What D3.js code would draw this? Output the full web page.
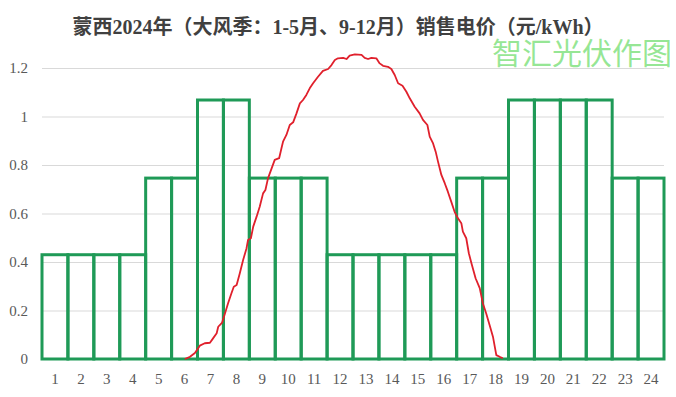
<!DOCTYPE html>
<html>
<head>
<meta charset="utf-8">
<script src="https://cdn.jsdelivr.net/npm/d3@7"></script>
<style>
  body { margin: 0; background: #fff; }
  svg { display: block; }
</style>
</head>
<body>
<div id="chart"></div>
<script>
const W = 676, H = 397;
const margin = { top: 68, right: 12, bottom: 38, left: 42 };
const width = W - margin.left - margin.right;
const height = H - margin.top - margin.bottom;

// hourly sale price (yuan/kWh)
const hours = d3.range(1, 25).map(String);
const price = [0.43, 0.43, 0.43, 0.43, 0.746, 0.746, 1.068, 1.068,
  0.746, 0.746, 0.746, 0.43, 0.43, 0.43, 0.43, 0.43,
  0.746, 0.746, 1.068, 1.068, 1.068, 1.068, 0.746, 0.746];

// PV output curve: position in hour-band units, and value
const pvT = [5.51, 5.71, 5.90, 6.09, 6.28, 6.48, 6.60, 6.74, 6.80, 6.95, 7.06, 7.18, 7.31, 7.40, 7.51,
  7.63, 7.76, 7.89, 7.95, 8.06, 8.15, 8.28, 8.40, 8.53, 8.62, 8.72, 8.86, 8.98, 9.15, 9.24, 9.30,
  9.43, 9.56, 9.69, 9.82, 9.95, 10.07, 10.20, 10.33, 10.46, 10.65, 10.84, 11.04, 11.17, 11.30,
  11.42, 11.62, 11.75, 11.87, 12.07, 12.33, 12.45, 12.58, 12.71, 12.90, 13.03, 13.16, 13.35,
  13.48, 13.61, 13.74, 13.91, 14.06, 14.19, 14.38, 14.57, 14.70, 14.87, 14.96, 15.09, 15.19,
  15.28, 15.41, 15.54, 15.66, 15.79, 15.92, 16.05, 16.18, 16.24, 16.37, 16.47, 16.57, 16.73,
  16.89, 17.01, 17.14, 17.27, 17.40, 17.53, 17.66, 17.78];
const pvV = [0, 0.009, 0.025, 0.055, 0.065, 0.067, 0.085, 0.106, 0.133, 0.150, 0.188, 0.230, 0.271, 0.298, 0.305,
  0.353, 0.408, 0.456, 0.491, 0.498, 0.546, 0.587, 0.628, 0.683, 0.697, 0.745, 0.786, 0.821, 0.828, 0.869, 0.896,
  0.924, 0.965, 0.976, 1.013, 1.054, 1.068, 1.089, 1.116, 1.137, 1.164, 1.188, 1.196, 1.212, 1.233,
  1.240, 1.242, 1.237, 1.251, 1.256, 1.254, 1.242, 1.237, 1.242, 1.240, 1.219, 1.209, 1.205,
  1.196, 1.171, 1.137, 1.127, 1.102, 1.075, 1.040, 1.013, 0.986, 0.965, 0.917, 0.889, 0.855,
  0.814, 0.759, 0.725, 0.690, 0.649, 0.607, 0.580, 0.560, 0.525, 0.498, 0.436, 0.395, 0.333,
  0.292, 0.230, 0.188, 0.140, 0.092, 0.016, 0.009, 0.003];

const yTicks = [0, 0.2, 0.4, 0.6, 0.8, 1, 1.2];
const title = "蒙西2024年（大风季：1-5月、9-12月）销售电价（元/kWh）";

const svg = d3.select("#chart").append("svg")
  .attr("width", W).attr("height", H);

const g = svg.append("g")
  .attr("transform", "translate(" + margin.left + "," + margin.top + ")");

const x = d3.scaleBand().domain(hours).range([0, width]).padding(0);
const xLin = d3.scaleLinear().domain([0, 24]).range([0, width]);
const y = d3.scaleLinear().domain([0, 1.2]).range([height, 0]);

// gridlines
g.append("g")
  .call(d3.axisLeft(y).tickValues(yTicks).tickSize(-width).tickFormat(""))
  .call(s => s.select(".domain").remove())
  .selectAll("line")
  .attr("stroke", "#d9d9d9")
  .attr("stroke-width", 1);

// y labels
g.append("g")
  .call(d3.axisLeft(y).tickValues(yTicks).tickSize(0).tickPadding(14)
    .tickFormat(d => String(d)))
  .call(s => s.select(".domain").remove())
  .selectAll("text")
  .style("font-family", "'Liberation Serif', 'DejaVu Serif', serif")
  .style("font-size", "15px")
  .attr("fill", "#595959");

// x labels
g.append("g")
  .attr("transform", "translate(0," + height + ")")
  .call(d3.axisBottom(x).tickSize(0).tickPadding(14))
  .call(s => s.select(".domain").remove())
  .selectAll("text")
  .style("font-family", "'Liberation Serif', 'DejaVu Serif', serif")
  .style("font-size", "15px")
  .attr("fill", "#595959");

// price bars (outlined)
g.selectAll("rect.bar")
  .data(price)
  .enter().append("rect")
  .attr("class", "bar")
  .attr("x", (d, i) => x(hours[i]))
  .attr("width", x.bandwidth())
  .attr("y", d => y(d))
  .attr("height", d => y(0) - y(d))
  .attr("fill", "none")
  .attr("stroke", "#1f9a57")
  .attr("stroke-width", 3);

// PV curve
const pv = pvT.map((t, i) => [t, pvV[i]]);
g.append("path")
  .datum(pv)
  .attr("fill", "none")
  .attr("stroke", "#e0202c")
  .attr("stroke-width", 1.8)
  .attr("stroke-linejoin", "round")
  .attr("d", d3.line().x(d => xLin(d[0])).y(d => y(d[1])));

// title
svg.append("text")
  .attr("x", 338)
  .attr("y", 34)
  .attr("text-anchor", "middle")
  .style("font-family", "'Liberation Serif', 'Noto Sans CJK SC', serif")
  .style("font-weight", "bold")
  .style("font-size", "20px")
  .attr("fill", "#404040")
  .text(title);

// watermark
svg.append("text")
  .attr("x", 672)
  .attr("y", 64)
  .attr("text-anchor", "end")
  .style("font-family", "'Noto Sans CJK SC', sans-serif")
  .style("font-size", "30px")
  .attr("fill", "#90e58e")
  .attr("fill-opacity", 0.95)
  .text("智汇光伏作图");
</script>
</body>
</html>
